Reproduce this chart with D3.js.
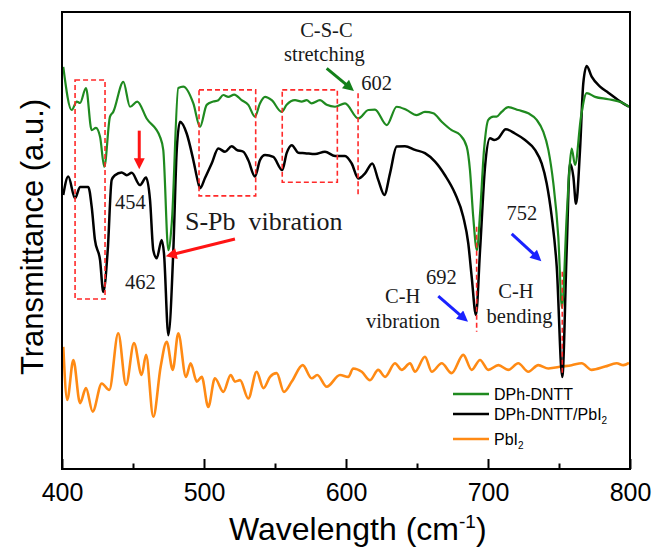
<!DOCTYPE html>
<html>
<head>
<meta charset="utf-8">
<title>FTIR | D3</title>
<script src="https://d3js.org/d3.v7.min.js"></script>
<style>
  body { margin: 0; background: #fff; }
  text { font-family: "Liberation Serif", "Times New Roman", serif; fill: #1a1a1a; }
  text.sans { font-family: "Liberation Sans", Arial, sans-serif; fill: #000; }
</style>
</head>
<body>
<script>
var width = 655, height = 547;

// DPh-DNTT (green)
var greenWn = [400.9,406.8,410.4,412.7,416.9,420.9,423.9,426.8,429.8,433.8,436.1,443.2,447.9,453.0,459.6,469.0,471.3,474.9,477.3,481.9,485.4,492.5,497.2,501.9,506.5,510.1,513.6,517.1,521.3,526.5,531.2,535.9,539.4,543.0,547.7,554.7,558.2,564.1,568.8,572.3,575.8,581.7,586.4,592.3,599.3,608.7,615.7,620.4,628.7,635.7,642.7,649.8,655.6,661.5,667.4,674.4,680.3,685.0,687.3,689.6,692.2,694.4,697.2,700.2,703.7,706.1,709.6,714.3,721.3,728.4,734.3,738.9,742.5,746.0,749.5,752.1,755.4,757.3,758.9,761.3,765.5,769.5,775.4,784.7,794.2,799.3];
var greenT = [88.3,79.1,80.9,80.6,83.8,74.8,75.3,73.4,67.0,77.7,78.7,85.1,79.8,80.9,77.3,73.4,70.6,49.2,55.0,83.8,84.1,80.5,75.5,80.2,80.9,81.2,82.3,81.9,82.4,81.2,80.2,77.7,80.5,81.9,81.2,78.7,80.2,81.2,80.9,81.2,80.5,81.2,80.2,79.8,80.5,77.3,79.1,79.2,75.9,79.8,79.1,78.0,78.7,78.4,76.6,74.8,73.8,71.3,66.3,56.3,49.2,57.0,70.6,77.0,77.7,77.7,78.7,79.7,79.1,78.4,77.0,74.5,70.6,63.5,52.1,36.9,56.3,66.3,70.9,67.4,77.7,82.7,81.9,81.4,80.7,79.8];

// DPh-DNTT/PbI2 (black)
var blackWn = [400.9,404.4,409.2,412.7,418.5,420.9,423.2,426.8,429.1,432.2,435.0,437.3,442.0,445.6,449.1,454.9,459.2,462.0,464.3,466.7,470.2,471.8,474.9,478.4,480.8,483.1,487.8,492.5,496.0,497.2,500.7,505.4,510.1,514.8,519.5,523.0,527.7,531.2,535.9,539.4,543.0,548.8,555.1,558.2,561.8,566.4,571.1,578.2,585.2,592.3,599.3,604.0,608.7,613.4,618.5,622.7,627.0,631.0,635.7,641.5,648.6,655.6,662.7,669.7,676.8,682.6,686.1,688.5,691.5,694.4,697.9,701.4,704.4,707.3,712.5,719.0,726.1,733.1,737.8,741.3,744.9,748.4,752.3,755.4,757.7,760.1,762.0,764.8,767.1,769.5,773.0,778.9,784.7,791.8,799.3];
var blackT = [61.0,64.9,60.3,62.7,62.7,58.5,51.4,47.1,40.3,49.2,64.2,65.2,65.8,65.2,65.7,63.1,64.7,59.9,49.2,47.5,51.4,48.6,31.1,49.2,70.6,76.6,74.1,68.4,63.5,62.4,64.6,67.7,70.9,70.2,71.4,70.6,70.2,68.4,64.9,68.4,69.5,69.1,66.3,69.9,71.6,70.0,69.9,69.7,70.2,69.3,69.3,67.7,64.5,65.6,67.7,64.2,61.0,65.6,71.3,71.4,70.6,69.9,68.1,65.2,61.3,56.3,50.7,43.6,35.4,49.2,67.0,73.1,72.7,73.1,75.0,74.1,72.7,70.6,67.7,63.5,56.3,45.7,22.2,49.2,67.7,64.9,59.1,70.6,84.8,88.5,86.2,84.1,82.8,81.2,79.8];

// PbI2 (orange)
var pbWn = [400.9,403.7,408.0,412.7,416.9,421.6,428.0,433.3,439.6,445.1,450.7,456.1,459.2,464.3,469.5,473.7,478.0,481.9,487.3,490.6,494.9,498.4,503.0,507.7,513.6,518.8,521.8,525.4,531.2,537.1,541.8,546.5,551.2,556.3,561.8,569.5,575.8,579.8,586.4,595.8,601.6,605.1,611.1,616.9,622.7,627.5,634.5,639.2,645.1,648.6,655.6,660.4,667.4,674.4,682.6,688.5,694.4,700.2,707.3,714.3,721.3,728.4,735.4,742.5,751.9,758.9,766.0,773.0,782.4,790.6,795.3,799.3];
var pbT = [28.6,17.3,25.8,16.6,19.8,14.8,20.8,19.4,31.5,20.5,29.4,22.6,26.9,13.7,24.4,29.7,23.7,31.5,22.2,25.1,21.2,22.2,15.8,21.9,19.0,22.6,21.2,21.5,17.6,23.3,19.8,22.2,23.0,19.0,21.2,24.7,21.9,22.6,20.1,22.6,22.2,24.0,23.3,21.5,23.7,22.2,25.1,23.7,25.1,23.3,26.5,23.3,25.1,23.0,26.9,23.7,25.8,23.7,24.7,23.7,25.1,23.3,24.7,24.0,24.4,24.7,25.1,23.7,24.4,25.1,24.7,25.2];

var xTicks = [400, 500, 600, 700, 800];
var xMinorTicks = [450, 550, 650, 750];
var legendNames = ["DPh-DNTT", "DPh-DNTT/PbI2", "PbI2"];

// marked regions [wn1, wn2, top, bottom] and peak markers [wn, top, bottom]
var boxes = [[409.2, 430.3, 85.5, 38.8], [496.5, 536.4, 83.4, 60.8], [555.1, 593.9, 83.4, 63.7]];
var peakLines = [[608.5, 82.7, 60.5], [692.0, 54.2, 31.8], [752.3, 44.6, 22.6]];

var arrows = [
  {from: [454.4, 74.7], to: [454.4, 65.9], c: "red"},
  {from: [521.8, 51.6], to: [471.3, 47.8], c: "red"},
  {from: [586.4, 88.0], to: [607.0, 82.8], c: "green"},
  {from: [665.0, 39.4], to: [687.3, 33.6], c: "blue"},
  {from: [716.7, 52.7], to: [738.9, 46.5], c: "blue"}
];

var labels = [
  {t: "C-S-C", x: 586.2, y: 94.7, a: "middle", s: 20.5},
  {t: "stretching", x: 584.8, y: 89.5, a: "middle", s: 20.5},
  {t: "602", x: 610.8, y: 83.4, a: "start", s: 20.5},
  {t: "454", x: 437.3, y: 58.0, a: "start", s: 20.5},
  {t: "462", x: 444.4, y: 40.9, a: "start", s: 20.5},
  {t: "S-Pb  vibration", x: 486.6, y: 53.5, a: "start", s: 26},
  {t: "692", x: 656.3, y: 42.1, a: "start", s: 20.5},
  {t: "C-H", x: 627.5, y: 37.9, a: "start", s: 20.5},
  {t: "vibration", x: 614.1, y: 32.6, a: "start", s: 20.5},
  {t: "C-H", x: 707.2, y: 39.0, a: "start", s: 20.5},
  {t: "bending", x: 699.0, y: 33.6, a: "start", s: 20.5},
  {t: "752", x: 713.1, y: 55.6, a: "start", s: 20.5}
];

var colors = {green: "#1f8a1f", black: "#000", orange: "#ff8a14"};
var arrowColors = {red: "#ff1414", green: "#13801a", blue: "#1a22ff"};

var svg = d3.select("body").append("svg")
  .attr("width", width)
  .attr("height", height);

var x = d3.scaleLinear().domain([400, 800]).range([62, 630]);
var y = d3.scaleLinear().domain([2.56, 100]).range([469, 12]);

var defs = svg.append("defs");
Object.keys(arrowColors).forEach(function(k) {
  defs.append("marker")
    .attr("id", "head-" + k)
    .attr("viewBox", "0 0 10 10")
    .attr("refX", 1).attr("refY", 5)
    .attr("markerWidth", 14).attr("markerHeight", 11)
    .attr("markerUnits", "userSpaceOnUse")
    .attr("orient", "auto")
    .append("path")
    .attr("d", "M0,0 L10,5 L0,10 z")
    .attr("fill", arrowColors[k]);
});

// ticks (inside, bottom only)
var xAxis = svg.append("g")
  .attr("transform", "translate(0,469)")
  .call(d3.axisBottom(x).tickValues(xTicks).tickSize(-10).tickSizeOuter(0).tickPadding(14));
xAxis.select(".domain").remove();
xAxis.selectAll("line").attr("stroke", "#000").attr("stroke-width", 2);
xAxis.selectAll("text").attr("class", "sans").style("font-size", "25px");

var xMinor = svg.append("g")
  .attr("transform", "translate(0,469)")
  .call(d3.axisBottom(x).tickValues(xMinorTicks).tickSize(-5.5).tickSizeOuter(0).tickFormat(""));
xMinor.select(".domain").remove();
xMinor.selectAll("line").attr("stroke", "#000").attr("stroke-width", 2);

// spectra
var line = d3.line()
  .x(function(d) { return x(d[0]); })
  .y(function(d) { return y(d[1]); })
  .curve(d3.curveMonotoneX);

svg.append("path").datum(d3.zip(pbWn, pbT))
  .attr("fill", "none").attr("stroke", colors.orange).attr("stroke-width", 2.6)
  .attr("d", line);
svg.append("path").datum(d3.zip(blackWn, blackT))
  .attr("fill", "none").attr("stroke", colors.black).attr("stroke-width", 2.5)
  .attr("d", line);
svg.append("path").datum(d3.zip(greenWn, greenT))
  .attr("fill", "none").attr("stroke", colors.green).attr("stroke-width", 2.2)
  .attr("d", line);

// dashed marks
svg.selectAll(".box").data(boxes).enter().append("rect")
  .attr("x", function(d) { return x(d[0]); })
  .attr("y", function(d) { return y(d[2]); })
  .attr("width", function(d) { return x(d[1]) - x(d[0]); })
  .attr("height", function(d) { return y(d[3]) - y(d[2]); })
  .attr("fill", "none").attr("stroke", "#ff2a2a")
  .attr("stroke-width", 1.6).attr("stroke-dasharray", "5,3");

svg.selectAll(".peak").data(peakLines).enter().append("line")
  .attr("x1", function(d) { return x(d[0]); })
  .attr("x2", function(d) { return x(d[0]); })
  .attr("y1", function(d) { return y(d[1]); })
  .attr("y2", function(d) { return y(d[2]); })
  .attr("stroke", "#ff2a2a").attr("stroke-width", 1.6).attr("stroke-dasharray", "5,3");

// arrows
svg.selectAll(".arrow").data(arrows).enter().append("line")
  .each(function(d) {
    var x1 = x(d.from[0]), y1 = y(d.from[1]), x2 = x(d.to[0]), y2 = y(d.to[1]);
    var len = Math.sqrt((x2 - x1) * (x2 - x1) + (y2 - y1) * (y2 - y1));
    var k = (len - 12.5) / len;
    d3.select(this)
      .attr("x1", x1).attr("y1", y1)
      .attr("x2", x1 + (x2 - x1) * k).attr("y2", y1 + (y2 - y1) * k)
      .attr("stroke", arrowColors[d.c]).attr("stroke-width", 3)
      .attr("marker-end", "url(#head-" + d.c + ")");
  });

// annotation text
svg.selectAll(".lab").data(labels).enter().append("text")
  .attr("x", function(d) { return x(d.x); })
  .attr("y", function(d) { return y(d.y); })
  .attr("text-anchor", function(d) { return d.a; })
  .attr("xml:space", "preserve")
  .style("white-space", "pre")
  .style("font-size", function(d) { return d.s + "px"; })
  .text(function(d) { return d.t; });

// legend
var legColors = [colors.green, colors.black, colors.orange];
var legRows = [394, 414, 439];
var leg = svg.selectAll(".leg").data(legendNames).enter().append("g")
  .attr("transform", function(d, i) { return "translate(453," + legRows[i] + ")"; });
leg.append("line")
  .attr("x1", 0).attr("x2", 36)
  .attr("stroke", function(d, i) { return legColors[i]; })
  .attr("stroke-width", 2.6);
leg.append("text").attr("class", "sans")
  .attr("x", 41).attr("y", 5.5)
  .style("font-size", "16px")
  .each(function(d) {
    var t = d3.select(this);
    if (/2$/.test(d)) {
      t.append("tspan").text(d.slice(0, -1));
      t.append("tspan").attr("dy", 4).style("font-size", "10px").text("2");
    } else {
      t.text(d);
    }
  });

// frame
svg.append("rect")
  .attr("x", 62).attr("y", 12)
  .attr("width", 568).attr("height", 457)
  .attr("fill", "none").attr("stroke", "#000").attr("stroke-width", 2);

// axis titles
var xt = svg.append("text").attr("class", "sans")
  .attr("x", 229).attr("y", 540)
  .style("font-size", "32px");
xt.append("tspan").text("Wavelength (cm");
xt.append("tspan").attr("dy", -12).style("font-size", "19px").text("-1");
xt.append("tspan").attr("dy", 12).text(")");

svg.append("text").attr("class", "sans")
  .attr("transform", "translate(43,237) rotate(-90)")
  .attr("text-anchor", "middle")
  .style("font-size", "31px")
  .text("Transmittance (a.u.)");
</script>
</body>
</html>
